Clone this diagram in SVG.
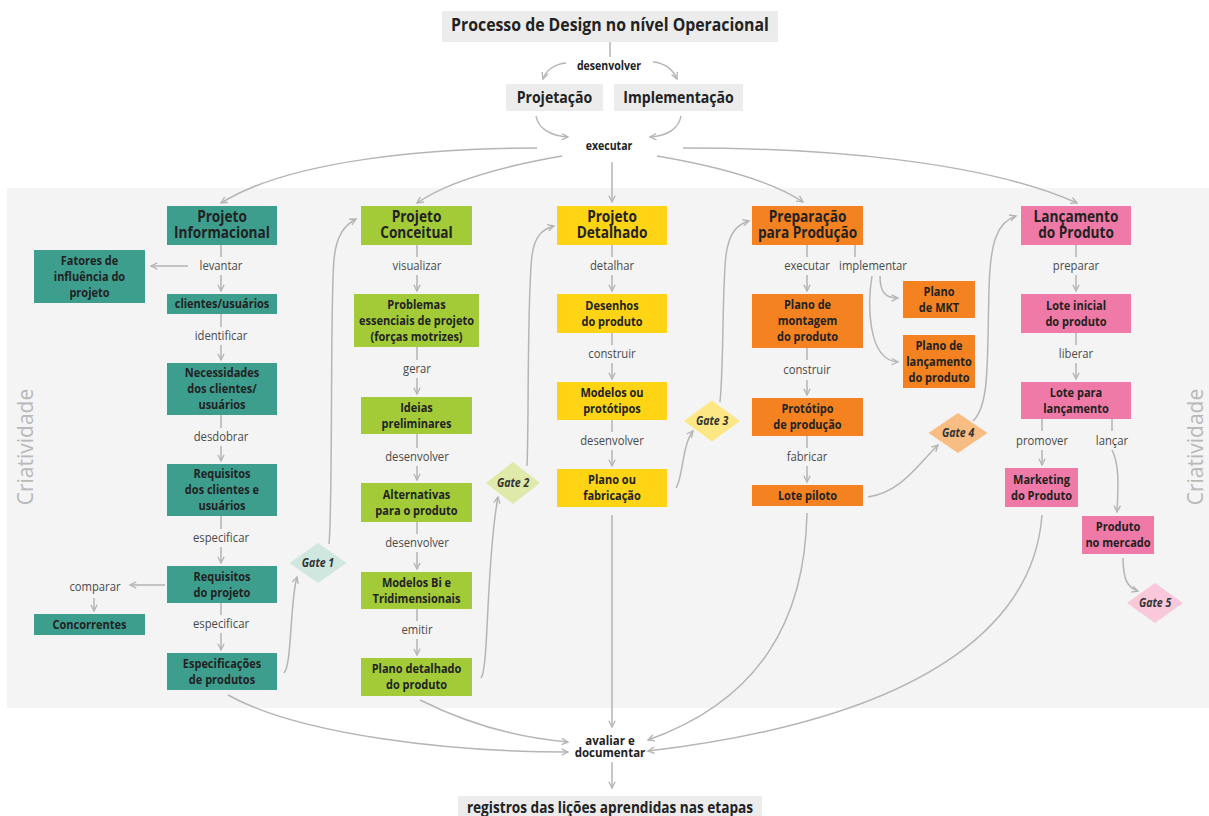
<svg xmlns="http://www.w3.org/2000/svg" width="1209" height="816" viewBox="0 0 1209 816">
<style>
text{font-family:"Open Sans","Noto Sans","Liberation Sans",sans-serif;text-anchor:middle}
.s{transform-box:fill-box;transform-origin:center;transform:scaleX(0.88)}
.h{font-size:15.5px;font-weight:700;fill:#222}
.n{font-size:12.5px;font-weight:700;fill:#222}
.lb{font-size:12.8px;font-weight:400;fill:#4a4a4a}
.tb{font-size:12px;font-weight:700;fill:#222}
.g{font-size:12px;font-weight:700;font-style:italic;fill:#333}
.cr{font-size:21px;font-weight:400;fill:#b8b8b8}
.c1{fill:#3d9e8e}.c2{fill:#a3cb38}.c3{fill:#fed414}.c4{fill:#f58220}.c5{fill:#f07aa7}
.gray{fill:#ececec}
.ln{fill:none;stroke:#b5b5b5;stroke-width:1.5}
</style>
<defs>
<marker id="ah" viewBox="0 0 10 10" refX="8" refY="5" markerWidth="9" markerHeight="9" markerUnits="userSpaceOnUse" orient="auto">
<path d="M1,1.5 L8,5 L1,8.5" fill="none" stroke="#b5b5b5" stroke-width="1.5"/>
</marker>
</defs>
<rect x="0" y="0" width="1209" height="816" fill="#ffffff"/>
<rect x="7" y="188" width="1202" height="520" fill="#f4f4f4"/>
<text class="cr" transform="translate(33,447) rotate(-90)">Criatividade</text>
<text class="cr" transform="translate(1203,447) rotate(-90)">Criatividade</text>

<g id="connectors" class="ln">
<path d="M610,42 L610,57"/>
<path d="M566,63 C555,64 546,70 543,79" marker-end="url(#ah)"/>
<path d="M653,62 C665,63 673,70 677,79" marker-end="url(#ah)"/>
<path d="M536,116 C538,128 550,136 568,137" marker-end="url(#ah)"/>
<path d="M681,116 C679,128 668,136 650,137" marker-end="url(#ah)"/>
<path d="M537,148 C430,148 290,160 221,203" marker-end="url(#ah)"/>
<path d="M562,156 C510,165 450,180 417,203" marker-end="url(#ah)"/>
<path d="M612,162 L612,202" marker-end="url(#ah)"/>
<path d="M657,156 C710,165 770,180 803,202" marker-end="url(#ah)"/>
<path d="M683,148 C820,148 980,160 1077,203" marker-end="url(#ah)"/>
<!-- col1 -->
<path d="M221,245 L221,257"/><path d="M221,275 L221,291" marker-end="url(#ah)"/>
<path d="M188,266 L151,266" marker-end="url(#ah)"/>
<path d="M221,314 L221,327"/><path d="M221,345 L221,360" marker-end="url(#ah)"/>
<path d="M221,415 L221,428"/><path d="M221,446 L221,461" marker-end="url(#ah)"/>
<path d="M221,516 L221,529"/><path d="M221,547 L221,563" marker-end="url(#ah)"/>
<path d="M221,603 L221,615"/><path d="M221,633 L221,650" marker-end="url(#ah)"/>
<path d="M165,585 L130,585" marker-end="url(#ah)"/>
<path d="M94,598 L94,611" marker-end="url(#ah)"/>
<!-- col2 -->
<path d="M417,245 L417,257"/><path d="M417,275 L417,291" marker-end="url(#ah)"/>
<path d="M417,347 L417,360"/><path d="M417,378 L417,394" marker-end="url(#ah)"/>
<path d="M417,434 L417,448"/><path d="M417,466 L417,480" marker-end="url(#ah)"/>
<path d="M417,522 L417,534"/><path d="M417,552 L417,569" marker-end="url(#ah)"/>
<path d="M417,609 L417,621"/><path d="M417,639 L417,655" marker-end="url(#ah)"/>
<!-- col3 -->
<path d="M612,245 L612,257"/><path d="M612,275 L612,291" marker-end="url(#ah)"/>
<path d="M612,333 L612,345"/><path d="M612,363 L612,379" marker-end="url(#ah)"/>
<path d="M612,420 L612,432"/><path d="M612,450 L612,466" marker-end="url(#ah)"/>
<path d="M612,515 L612,727" marker-end="url(#ah)"/>
<!-- col4 -->
<path d="M807,245 L807,257"/><path d="M807,275 L807,291" marker-end="url(#ah)"/>
<path d="M855,245 L855,257"/>
<path d="M880,276 C880,292 885,298 898,298" marker-end="url(#ah)"/>
<path d="M872,276 C868,300 866,360 898,362" marker-end="url(#ah)"/>
<path d="M807,348 L807,360"/><path d="M807,380 L807,395" marker-end="url(#ah)"/>
<path d="M807,436 L807,448"/><path d="M807,466 L807,482" marker-end="url(#ah)"/>
<!-- col5 -->
<path d="M1076,245 L1076,257"/><path d="M1076,275 L1076,291" marker-end="url(#ah)"/>
<path d="M1076,333 L1076,345"/><path d="M1076,363 L1076,379" marker-end="url(#ah)"/>
<path d="M1042,419 L1042,431"/><path d="M1042,450 L1042,465" marker-end="url(#ah)"/>
<path d="M1112,419 L1112,431"/>
<path d="M1112,450 C1120,465 1118,490 1117,512" marker-end="url(#ah)"/>
<path d="M1123,558 C1123,580 1128,588 1138,591" marker-end="url(#ah)"/>
<!-- gates -->
<path d="M284,673 C292,665 290,600 297,577" marker-end="url(#ah)"/>
<path d="M329,544 C333,500 330,300 334,260 C336,235 345,225 356,219" marker-end="url(#ah)"/>
<path d="M481,678 C489,668 486,560 498,497" marker-end="url(#ah)"/>
<path d="M527,466 C529,420 527,300 532,255 C535,235 543,229 554,226" marker-end="url(#ah)"/>
<path d="M676,488 C683,478 682,445 693,431" marker-end="url(#ah)"/>
<path d="M720,402 C724,360 722,290 726,255 C729,232 738,224 749,221" marker-end="url(#ah)"/>
<path d="M868,497 C900,492 915,468 938,445" marker-end="url(#ah)"/>
<path d="M973,421 C990,405 987,360 989,290 C990,240 998,222 1016,216" marker-end="url(#ah)"/>
<!-- bottom -->
<path d="M228,695 C300,735 450,752 568,752" marker-end="url(#ah)"/>
<path d="M420,700 C470,725 520,738 568,742" marker-end="url(#ah)"/>
<path d="M807,513 C805,620 760,700 648,740" marker-end="url(#ah)"/>
<path d="M1042,515 C1035,610 950,715 648,751" marker-end="url(#ah)"/>
<path d="M612,762 L612,788" marker-end="url(#ah)"/>
</g>

<g id="title"><rect class="gray" x="442" y="11" width="336" height="31"/><text class="s" x="610" y="31.5" style="font-size:18px;font-weight:700;fill:#222">Processo de Design no nível Operacional</text></g>
<g id="lbl-desenvolver"><text class="tb s" x="609" y="70">desenvolver</text></g>
<g id="projetacao"><rect class="gray" x="506" y="84" width="97" height="27"/><text class="s" x="554.5" y="103" style="font-size:16px;font-weight:700;fill:#222">Projetação</text></g>
<g id="implementacao"><rect class="gray" x="614" y="84" width="129" height="27"/><text class="s" x="678.5" y="103" style="font-size:16px;font-weight:700;fill:#222">Implementação</text></g>
<g id="lbl-executar"><text class="tb s" x="609" y="150">executar</text></g>

<!-- column 1 -->
<g id="projeto-informacional"><rect class="c1" x="167" y="206" width="110" height="39"/><text class="h s" x="222"><tspan x="222" y="222.5">Projeto</tspan><tspan x="222" y="238.5">Informacional</tspan></text></g>
<g id="fatores"><rect class="c1" x="34" y="250" width="111" height="53"/><text class="n s" x="89.5"><tspan x="89.5" y="265">Fatores de</tspan><tspan x="89.5" y="281">influência do</tspan><tspan x="89.5" y="297">projeto</tspan></text></g>
<g id="clientes"><rect class="c1" x="167" y="294" width="110" height="20"/><text class="n s" x="222" y="308.5">clientes/usuários</text></g>
<g id="necessidades"><rect class="c1" x="167" y="363" width="110" height="52"/><text class="n s" x="222"><tspan x="222" y="377.5">Necessidades</tspan><tspan x="222" y="393.5">dos clientes/</tspan><tspan x="222" y="409.5">usuários</tspan></text></g>
<g id="requisitos-clientes"><rect class="c1" x="167" y="464" width="110" height="52"/><text class="n s" x="222"><tspan x="222" y="478.5">Requisitos</tspan><tspan x="222" y="494.5">dos clientes e</tspan><tspan x="222" y="510.5">usuários</tspan></text></g>
<g id="requisitos-projeto"><rect class="c1" x="167" y="566" width="110" height="37"/><text class="n s" x="222"><tspan x="222" y="581">Requisitos</tspan><tspan x="222" y="597">do projeto</tspan></text></g>
<g id="concorrentes"><rect class="c1" x="34" y="614" width="111" height="21"/><text class="n s" x="89.5" y="629">Concorrentes</text></g>
<g id="especificacoes"><rect class="c1" x="167" y="653" width="110" height="37"/><text class="n s" x="222"><tspan x="222" y="668">Especificações</tspan><tspan x="222" y="684">de produtos</tspan></text></g>
<g id="labels-c1">
<text class="lb s" x="221" y="270.5">levantar</text>
<text class="lb s" x="221" y="340.5">identificar</text>
<text class="lb s" x="221" y="441.5">desdobrar</text>
<text class="lb s" x="221" y="542.5">especificar</text>
<text class="lb s" x="95" y="591.5">comparar</text>
<text class="lb s" x="221" y="628.5">especificar</text>
</g>
<g id="gate1"><path d="M318,543 L346.5,563 L318,583 L289.5,563 Z" fill="#cfe7df"/><text class="g s" x="318" y="567.5">Gate 1</text></g>

<!-- column 2 -->
<g id="projeto-conceitual"><rect class="c2" x="361" y="206" width="111" height="39"/><text class="h s" x="416.5"><tspan x="416.5" y="222.5">Projeto</tspan><tspan x="416.5" y="238.5">Conceitual</tspan></text></g>
<g id="problemas"><rect class="c2" x="354" y="294" width="125" height="53"/><text class="n s" x="416.5"><tspan x="416.5" y="309">Problemas</tspan><tspan x="416.5" y="325">essenciais de projeto</tspan><tspan x="416.5" y="341">(forças motrizes)</tspan></text></g>
<g id="ideias"><rect class="c2" x="361" y="397" width="111" height="37"/><text class="n s" x="416.5"><tspan x="416.5" y="412">Ideias</tspan><tspan x="416.5" y="428">preliminares</tspan></text></g>
<g id="alternativas"><rect class="c2" x="361" y="483" width="111" height="39"/><text class="n s" x="416.5"><tspan x="416.5" y="499">Alternativas</tspan><tspan x="416.5" y="515">para o produto</tspan></text></g>
<g id="modelos-bi"><rect class="c2" x="361" y="572" width="111" height="37"/><text class="n s" x="416.5"><tspan x="416.5" y="587">Modelos Bi e</tspan><tspan x="416.5" y="603">Tridimensionais</tspan></text></g>
<g id="plano-detalhado"><rect class="c2" x="361" y="658" width="111" height="38"/><text class="n s" x="416.5"><tspan x="416.5" y="673.5">Plano detalhado</tspan><tspan x="416.5" y="689.5">do produto</tspan></text></g>
<g id="labels-c2">
<text class="lb s" x="417" y="270.5">visualizar</text>
<text class="lb s" x="417" y="373.5">gerar</text>
<text class="lb s" x="417" y="461.5">desenvolver</text>
<text class="lb s" x="417" y="547.5">desenvolver</text>
<text class="lb s" x="417" y="634.5">emitir</text>
</g>
<g id="gate2"><path d="M513,462 L540,483 L513,504 L486,483 Z" fill="#dfeaaa"/><text class="g s" x="513" y="487.5">Gate 2</text></g>

<!-- column 3 -->
<g id="projeto-detalhado"><rect class="c3" x="557" y="206" width="110" height="39"/><text class="h s" x="612"><tspan x="612" y="222.5">Projeto</tspan><tspan x="612" y="238.5">Detalhado</tspan></text></g>
<g id="desenhos"><rect class="c3" x="557" y="294" width="110" height="39"/><text class="n s" x="612"><tspan x="612" y="310">Desenhos</tspan><tspan x="612" y="326">do produto</tspan></text></g>
<g id="modelos-prototipos"><rect class="c3" x="557" y="382" width="110" height="38"/><text class="n s" x="612"><tspan x="612" y="397.5">Modelos ou</tspan><tspan x="612" y="413.5">protótipos</tspan></text></g>
<g id="plano-fabricacao"><rect class="c3" x="557" y="469" width="110" height="38"/><text class="n s" x="612"><tspan x="612" y="484.5">Plano ou</tspan><tspan x="612" y="500.5">fabricação</tspan></text></g>
<g id="labels-c3">
<text class="lb s" x="612" y="270.5">detalhar</text>
<text class="lb s" x="612" y="358.5">construir</text>
<text class="lb s" x="612" y="445.5">desenvolver</text>
</g>
<g id="gate3"><path d="M712,400.5 L740,421 L712,441.5 L684,421 Z" fill="#fde784"/><text class="g s" x="712" y="425.5">Gate 3</text></g>

<!-- column 4 -->
<g id="preparacao"><rect class="c4" x="752" y="206" width="111" height="39"/><text class="h s" x="807.5"><tspan x="807.5" y="222">Preparação</tspan><tspan x="807.5" y="238.5">para Produção</tspan></text></g>
<g id="plano-montagem"><rect class="c4" x="752" y="294" width="111" height="54"/><text class="n s" x="807.5"><tspan x="807.5" y="309.5">Plano de</tspan><tspan x="807.5" y="325.5">montagem</tspan><tspan x="807.5" y="341.5">do produto</tspan></text></g>
<g id="prototipo-producao"><rect class="c4" x="752" y="398" width="111" height="38"/><text class="n s" x="807.5"><tspan x="807.5" y="413.5">Protótipo</tspan><tspan x="807.5" y="429.5">de produção</tspan></text></g>
<g id="lote-piloto"><rect class="c4" x="752" y="485" width="111" height="21"/><text class="n s" x="807.5" y="500">Lote piloto</text></g>
<g id="plano-mkt"><rect class="c4" x="903" y="281" width="72" height="37"/><text class="n s" x="939"><tspan x="939" y="296">Plano</tspan><tspan x="939" y="312">de MKT</tspan></text></g>
<g id="plano-lancamento"><rect class="c4" x="903" y="335" width="72" height="53"/><text class="n s" x="939"><tspan x="939" y="350">Plano de</tspan><tspan x="939" y="366">lançamento</tspan><tspan x="939" y="382">do produto</tspan></text></g>
<g id="labels-c4">
<text class="lb s" x="807" y="270.5">executar</text>
<text class="lb s" x="873" y="270.5">implementar</text>
<text class="lb s" x="807" y="374.5">construir</text>
<text class="lb s" x="807" y="461.5">fabricar</text>
</g>
<g id="gate4"><path d="M958,413 L987.5,433 L958,453 L928.5,433 Z" fill="#f8bd82"/><text class="g s" x="958" y="437.5">Gate 4</text></g>

<!-- column 5 -->
<g id="lancamento"><rect class="c5" x="1021" y="206" width="110" height="39"/><text class="h s" x="1076"><tspan x="1076" y="222">Lançamento</tspan><tspan x="1076" y="238.5">do Produto</tspan></text></g>
<g id="lote-inicial"><rect class="c5" x="1021" y="294" width="110" height="39"/><text class="n s" x="1076"><tspan x="1076" y="310">Lote inicial</tspan><tspan x="1076" y="326">do produto</tspan></text></g>
<g id="lote-lancamento"><rect class="c5" x="1021" y="382" width="110" height="37"/><text class="n s" x="1076"><tspan x="1076" y="397">Lote para</tspan><tspan x="1076" y="413">lançamento</tspan></text></g>
<g id="marketing"><rect class="c5" x="1005" y="468" width="73" height="39"/><text class="n s" x="1041.5"><tspan x="1041.5" y="484">Marketing</tspan><tspan x="1041.5" y="500">do Produto</tspan></text></g>
<g id="produto-mercado"><rect class="c5" x="1082" y="516" width="72" height="38"/><text class="n s" x="1118"><tspan x="1118" y="531.5">Produto</tspan><tspan x="1118" y="547.5">no mercado</tspan></text></g>
<g id="labels-c5">
<text class="lb s" x="1076" y="270.5">preparar</text>
<text class="lb s" x="1076" y="358.5">liberar</text>
<text class="lb s" x="1042" y="445.5">promover</text>
<text class="lb s" x="1112" y="445.5">lançar</text>
</g>
<g id="gate5"><path d="M1155,583 L1183,603 L1155,623 L1127,603 Z" fill="#f9c9db"/><text class="g s" x="1155" y="607.5">Gate 5</text></g>

<g id="avaliar"><text class="tb" x="610" style="font-size:11.5px"><tspan x="610" y="745">avaliar e</tspan><tspan x="610" y="757">documentar</tspan></text></g>
<g id="registros"><rect class="gray" x="458" y="796" width="304" height="20"/><text class="s" x="610" y="813" style="font-size:15.5px;font-weight:700;fill:#222">registros das lições aprendidas nas etapas</text></g>
</svg>
